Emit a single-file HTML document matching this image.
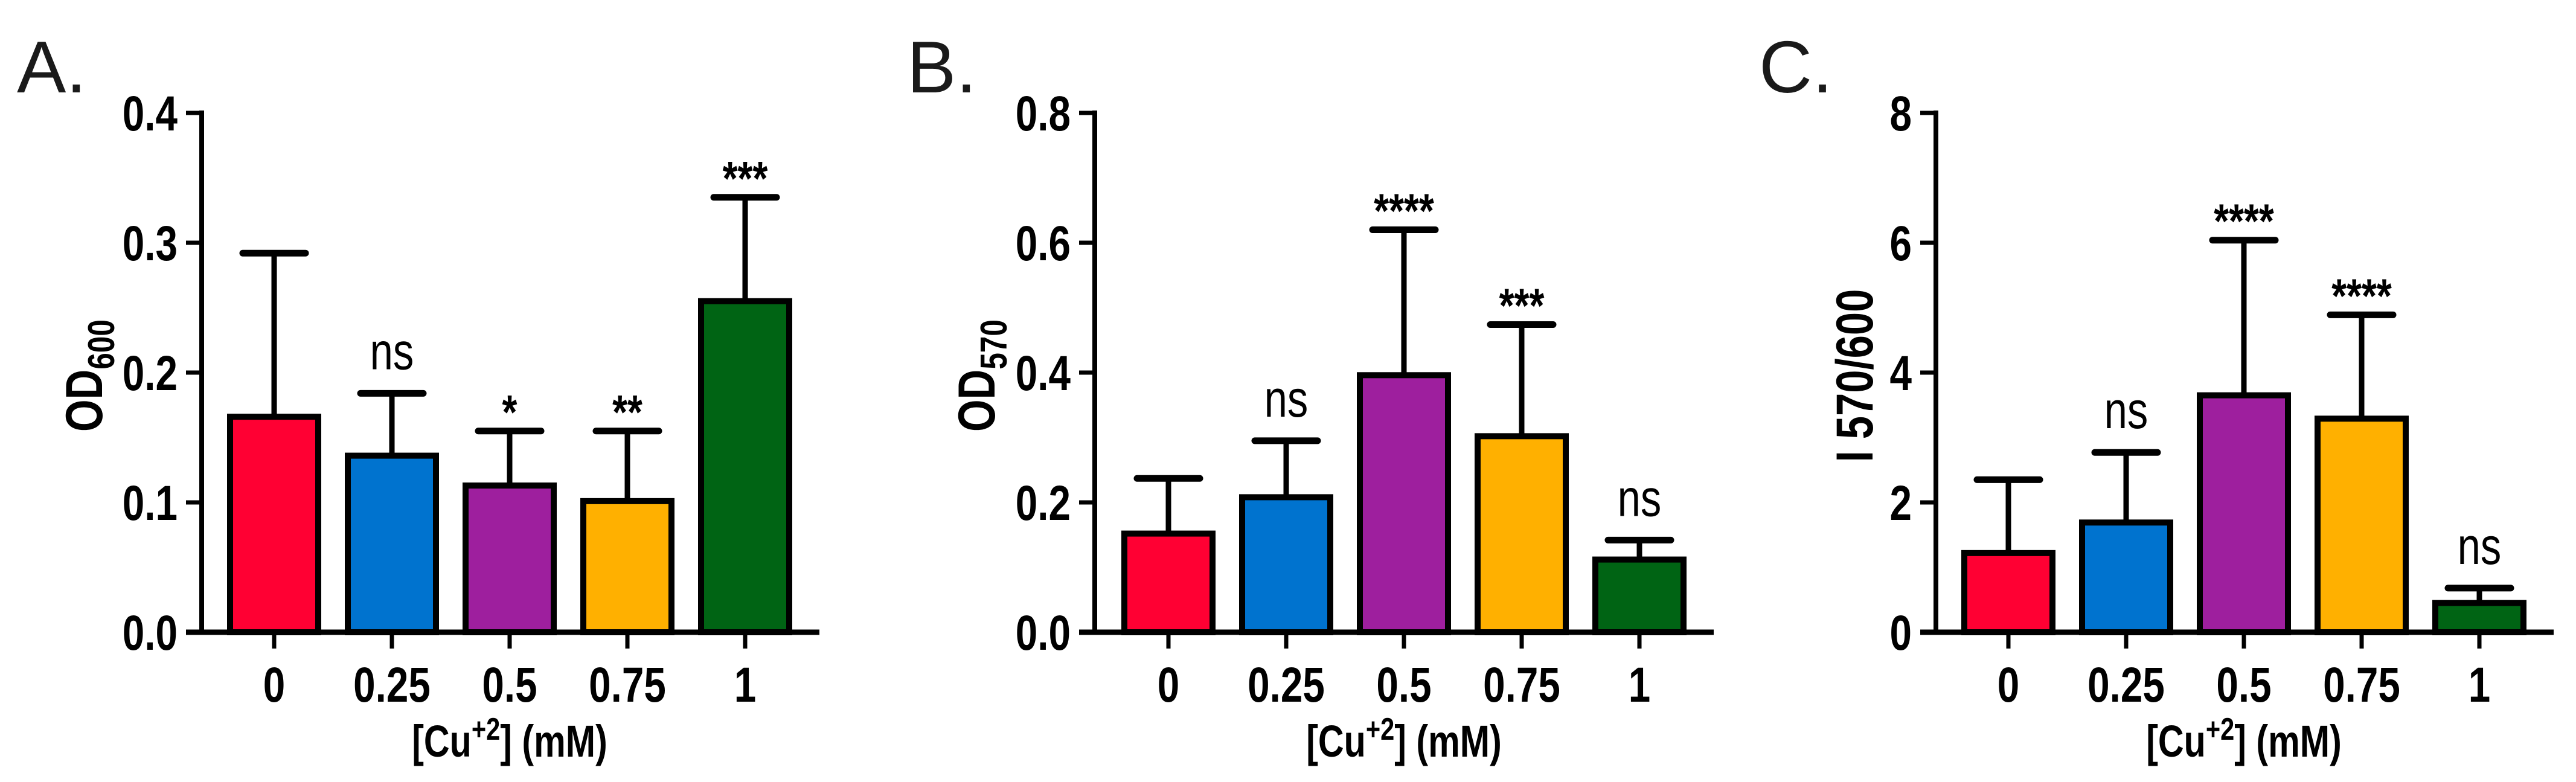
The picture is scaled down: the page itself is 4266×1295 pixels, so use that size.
<!DOCTYPE html>
<html><head><meta charset="utf-8"><style>
html,body{margin:0;padding:0;background:#fff;}
svg{display:block;}
text{font-family:"Liberation Sans",sans-serif;}
</style></head><body>
<svg id="fig" width="4266" height="1295" viewBox="0 0 4266 1295" xmlns="http://www.w3.org/2000/svg"></svg>
<script>
const categories = ["0", "0.25", "0.5", "0.75", "1"];
const colors = ["#FF0033", "#0073CF", "#9E1F9E", "#FFB000", "#006414"];
const meansA = [0.166, 0.136, 0.113, 0.101, 0.255];
const errA = [0.292, 0.184, 0.155, 0.155, 0.335];
const sigA = ["", "ns", "*", "**", "***"];
const ticksA = ["0.0", "0.1", "0.2", "0.3", "0.4"];
const meansB = [0.152, 0.208, 0.396, 0.302, 0.112];
const errB = [0.237, 0.295, 0.620, 0.474, 0.142];
const sigB = ["", "ns", "****", "***", "ns"];
const ticksB = ["0.0", "0.2", "0.4", "0.6", "0.8"];
const meansC = [1.22, 1.69, 3.65, 3.29, 0.45];
const errC = [2.35, 2.77, 6.04, 4.89, 0.68];
const sigC = ["", "ns", "****", "****", "ns"];
const ticksC = ["0", "2", "4", "6", "8"];

const NS = "http://www.w3.org/2000/svg";
const svg = document.getElementById("fig");
const SX = 0.8;
function mk(tag, attrs, parent) {
  const e = document.createElementNS(NS, tag);
  for (const k in attrs) e.setAttribute(k, attrs[k]);
  (parent || svg).appendChild(e);
  return e;
}
function ntext(x, y, attrs, parent, rot) {
  const a = Object.assign({x: 0, y: 0}, attrs);
  a.transform = "translate(" + x + "," + y + ")" + (rot ? " rotate(-90)" : "") + " scale(" + SX + ",1)";
  return mk("text", a, parent);
}

function panel(letter, letterX, ax, t0, ymax, means, errs, sigs, ticks, titleMain, titleSub, titleX) {
  const g = mk("g", {});
  
  
  const y0 = 1047, ytop = 187, step = 195;
  const ys = v => y0 - (v / ymax) * (y0 - ytop);
  const xs = i => t0 + i * step;
  const lt = mk("text", {x: letterX, y: 153, "font-size": 122, fill: "#1a1a1a"}, g);
  lt.textContent = letter + ".";
  
  
  means.forEach((m, i) => {
    const cx = xs(i);
    const eb = mk("line", {x1: cx, x2: cx, y1: ys(m), y2: ys(errs[i]), stroke: "#000", "stroke-width": 9}, g);
    
    
    const cap = mk("line", {x1: cx - 52, x2: cx + 52, y1: ys(errs[i]), y2: ys(errs[i]), stroke: "#000", "stroke-width": 11, "stroke-linecap": "round"}, g);
    
    
    const r = mk("rect", {x: cx - 73, y: ys(m), width: 146, height: y0 - ys(m), fill: colors[i], stroke: "#000", "stroke-width": 10}, g);
    
    
    if (sigs[i]) {
      const isNs = sigs[i] === "ns";
      const t = ntext(cx, ys(errs[i]) - (isNs ? 40 : 4), {"text-anchor": "middle", "font-size": isNs ? 86 : 80, "font-weight": isNs ? "normal" : "bold", fill: "#000"}, g);
      t.textContent = sigs[i];
      
      
    }
    const tk = mk("line", {x1: cx, x2: cx, y1: y0, y2: y0 + 27, stroke: "#000", "stroke-width": 7}, g);
    
    
    const tl = ntext(cx, 1162, {"text-anchor": "middle", "font-size": 82, "font-weight": "bold", fill: "#000"}, g);
    tl.textContent = categories[i];
    
    
  });
  const yaxis = mk("line", {x1: ax, x2: ax, y1: ytop - 4, y2: y0 + 4, stroke: "#000", "stroke-width": 8}, g);
  
  
  const xaxis = mk("line", {x1: ax - 26, x2: xs(4) + 123, y1: y0, y2: y0, stroke: "#000", "stroke-width": 9}, g);
  
  
  ticks.forEach((lab, j) => {
    const v = ymax * j / (ticks.length - 1);
    const y = ys(v);
    const tk = mk("line", {x1: ax - 26, x2: ax, y1: y, y2: y, stroke: "#000", "stroke-width": 7}, g);
    
    
    const tl = ntext(ax - 40, y + 29, {"text-anchor": "end", "font-size": 82, "font-weight": "bold", fill: "#000"}, g);
    tl.textContent = lab;
    
    
  });
  const yt = mk("text", {transform: "translate(" + (titleX + 30) + ",622) rotate(-90) scale(" + SX + ",1)", "text-anchor": "middle", "font-size": 86, "font-weight": "bold", fill: "#000"}, g);
  
  
  yt.appendChild(document.createTextNode(titleMain));
  if (titleSub) {
    const s = mk("tspan", {"font-size": 62, dy: 20}, yt);
    s.textContent = titleSub;
  }
  const xt = ntext(xs(2), 1253, {"text-anchor": "middle", "font-size": 74, "font-weight": "bold", fill: "#000"}, g);
  
  
  xt.appendChild(document.createTextNode("[Cu"));
  const sp = mk("tspan", {"font-size": 52, dy: -28}, xt);
  sp.textContent = "+2";
  const rest = mk("tspan", {dy: 28}, xt);
  rest.textContent = "] (mM)";
}

panel("A", 28, 334, 454, 0.4, meansA, errA, sigA, ticksA, "OD", "600", 139);
panel("B", 1502, 1813, 1935, 0.8, meansB, errB, sigB, ticksB, "OD", "570", 1617);
panel("C", 2913, 3206, 3326, 8, meansC, errC, sigC, ticksC, "I 570/600", "", 3071);
</script>
</body></html>
